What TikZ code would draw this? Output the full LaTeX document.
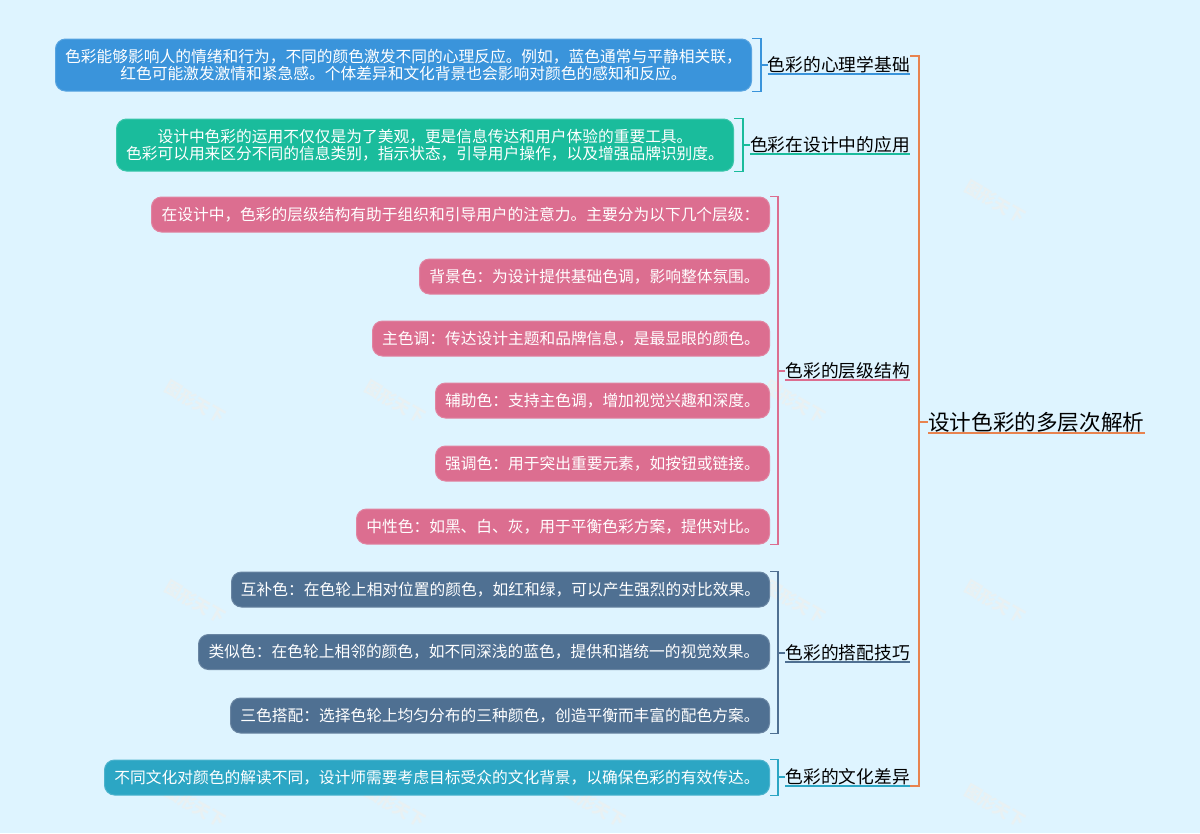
\documentclass[tikz,border=0pt]{standalone}
\usepackage{fontspec}
\setmainfont{Noto Sans CJK SC}
\usetikzlibrary{calc}
\newcommand{\qc}{^^^^ff0c}
\newcommand{\qm}{^^^^ff1a}
\definecolor{bgblue}{HTML}{DEF4FF}
\definecolor{markgray}{HTML}{E9F1F3}
\definecolor{rootorange}{HTML}{E8834F}
\definecolor{psyblue}{HTML}{3A94DB}
\definecolor{usegreen}{HTML}{1ABC9C}
\definecolor{levelpink}{HTML}{DC6E90}
\definecolor{matchslate}{HTML}{4F7092}
\definecolor{cultureteal}{HTML}{2CA6C4}

\begin{document}
\begin{tikzpicture}[
    x=0.75pt,y=-0.75pt,
    leafnode/.style={rectangle, rounded corners=7.5pt, anchor=east, align=center, text=white, inner sep=0pt, line width=0.75pt, font=\fontsize{11.8}{12.75}\selectfont},
    topicnode/.style={rectangle, anchor=east, inner sep=0pt, minimum height=13.5pt, text=black, font=\fontsize{13.3}{15}\selectfont},
    rootnode/.style={rectangle, anchor=west, inner sep=0pt, minimum height=16.5pt, text=black, font=\fontsize{16.2}{18}\selectfont},
    markernode/.style={text=markgray, rotate=-30, font=\fontsize{12.5}{14}\selectfont\bfseries},
    branch/.style={line width=1.2pt},
    underbar/.style={line width=1.5pt}
    ]
  \useasboundingbox[fill=bgblue] (0,0) rectangle (1200,833);
  % watermark
  \foreach \mx/\my in {195/402,195/602,195/806,395/402,395/806,595/806,795/402,795/602,995/202,995/602,995/806}
    \node[markernode] at (\mx,\my) {图形天下};
  % coordinates
  \coordinate (SpineRoot) at (919,422);
  \coordinate (SpinePsy) at (761,65);
  \coordinate (SpineUse) at (743,145);
  \coordinate (SpineLevel) at (778,371);
  \coordinate (SpineMatch) at (778,653);
  \coordinate (SpineCulture) at (778,777);
  % nodes
  \node[rootnode] (Root) at (928,422) {设计色彩的多层次解析};
  \node[topicnode] (Psychology) at (910,65) {色彩的心理学基础};
  \node[topicnode] (Usage) at (910,145) {色彩在设计中的应用};
  \node[topicnode] (Levels) at (910,371) {色彩的层级结构};
  \node[topicnode] (Matching) at (910,653) {色彩的搭配技巧};
  \node[topicnode] (Culture) at (910,777) {色彩的文化差异};
  \begin{scope}[minimum height=39pt]
    \node[leafnode, fill=psyblue, draw=psyblue!85!white, minimum width=522pt] (PsyText) at (752,65) {色彩能够影响人的情绪和行为\qc{}不同的颜色激发不同的心理反应。例如\qc{}蓝色通常与平静相关联\qc{}\\红色可能激发激情和紧急感。个体差异和文化背景也会影响对颜色的感知和反应。};
    \node[leafnode, fill=usegreen, draw=usegreen!85!white, minimum width=462.75pt] (UseText) at (734,145) {设计中色彩的运用不仅仅是为了美观\qc{}更是信息传达和用户体验的重要工具。\\色彩可以用来区分不同的信息类别\qc{}指示状态\qc{}引导用户操作\qc{}以及增强品牌识别度。};
  \end{scope}
  \begin{scope}[minimum height=26.25pt]
    \node[leafnode, fill=levelpink, draw=levelpink!85!white, minimum width=463.5pt] (LevelA) at (770,214.5) {在设计中\qc{}色彩的层级结构有助于组织和引导用户的注意力。主要分为以下几个层级\qm{}};
    \node[leafnode, fill=levelpink, draw=levelpink!85!white, minimum width=262.5pt] (LevelB) at (770,276.5) {背景色\qm{}为设计提供基础色调\qc{}影响整体氛围。};
    \node[leafnode, fill=levelpink, draw=levelpink!85!white, minimum width=297.75pt] (LevelC) at (770,338.5) {主色调\qm{}传达设计主题和品牌信息\qc{}是最显眼的颜色。};
    \node[leafnode, fill=levelpink, draw=levelpink!85!white, minimum width=250.5pt] (LevelD) at (770,400.5) {辅助色\qm{}支持主色调\qc{}增加视觉兴趣和深度。};
    \node[leafnode, fill=levelpink, draw=levelpink!85!white, minimum width=250.5pt] (LevelE) at (770,463.5) {强调色\qm{}用于突出重要元素\qc{}如按钮或链接。};
    \node[leafnode, fill=levelpink, draw=levelpink!85!white, minimum width=309.75pt] (LevelF) at (770,526.5) {中性色\qm{}如黑、白、灰\qc{}用于平衡色彩方案\qc{}提供对比。};
    \node[leafnode, fill=matchslate, draw=matchslate!85!white, minimum width=403.5pt] (MatchA) at (770,589.5) {互补色\qm{}在色轮上相对位置的颜色\qc{}如红和绿\qc{}可以产生强烈的对比效果。};
    \node[leafnode, fill=matchslate, draw=matchslate!85!white, minimum width=428.25pt] (MatchB) at (770,652) {类似色\qm{}在色轮上相邻的颜色\qc{}如不同深浅的蓝色\qc{}提供和谐统一的视觉效果。};
    \node[leafnode, fill=matchslate, draw=matchslate!85!white, minimum width=404.25pt] (MatchC) at (770,715.5) {三色搭配\qm{}选择色轮上均匀分布的三种颜色\qc{}创造平衡而丰富的配色方案。};
    \node[leafnode, fill=cultureteal, draw=cultureteal!85!white, minimum width=498.75pt] (CultureText) at (770,777.5) {不同文化对颜色的解读不同\qc{}设计师需要考虑目标受众的文化背景\qc{}以确保色彩的有效传达。};
  \end{scope}
  % arrows
  \draw[branch, rootorange] (Psychology.north east) -| (SpineRoot) |- (Culture.south east);
  \draw[branch, rootorange] (SpineRoot) -- (Root.west);
  \draw[branch, psyblue] (PsyText.north east) -| (SpinePsy) |- (PsyText.south east);
  \draw[branch, psyblue] (SpinePsy) -- (Psychology.west);
  \draw[branch, usegreen] (UseText.north east) -| (SpineUse) |- (UseText.south east);
  \draw[branch, usegreen] (SpineUse) -- (Usage.west);
  \draw[branch, levelpink] (LevelA.north east) -| (SpineLevel) |- (LevelF.south east);
  \draw[branch, levelpink] (SpineLevel) -- (Levels.west);
  \draw[branch, matchslate] (MatchA.north east) -| (SpineMatch) |- (MatchC.south east);
  \draw[branch, matchslate] (SpineMatch) -- (Matching.west);
  \draw[branch, cultureteal] (CultureText.north east) -| (SpineCulture) |- (CultureText.south east);
  \draw[branch, cultureteal] (SpineCulture) -- (Culture.west);
  % underlines
  \draw[underbar, rootorange] (Root.south west) -- (Root.south east);
  \draw[underbar, psyblue] (Psychology.south west) -- (Psychology.south east);
  \draw[underbar, usegreen] (Usage.south west) -- (Usage.south east);
  \draw[underbar, levelpink] (Levels.south west) -- (Levels.south east);
  \draw[underbar, matchslate] (Matching.south west) -- (Matching.south east);
  \draw[underbar, cultureteal] (Culture.south west) -- (Culture.south east);
\end{tikzpicture}
\end{document}
